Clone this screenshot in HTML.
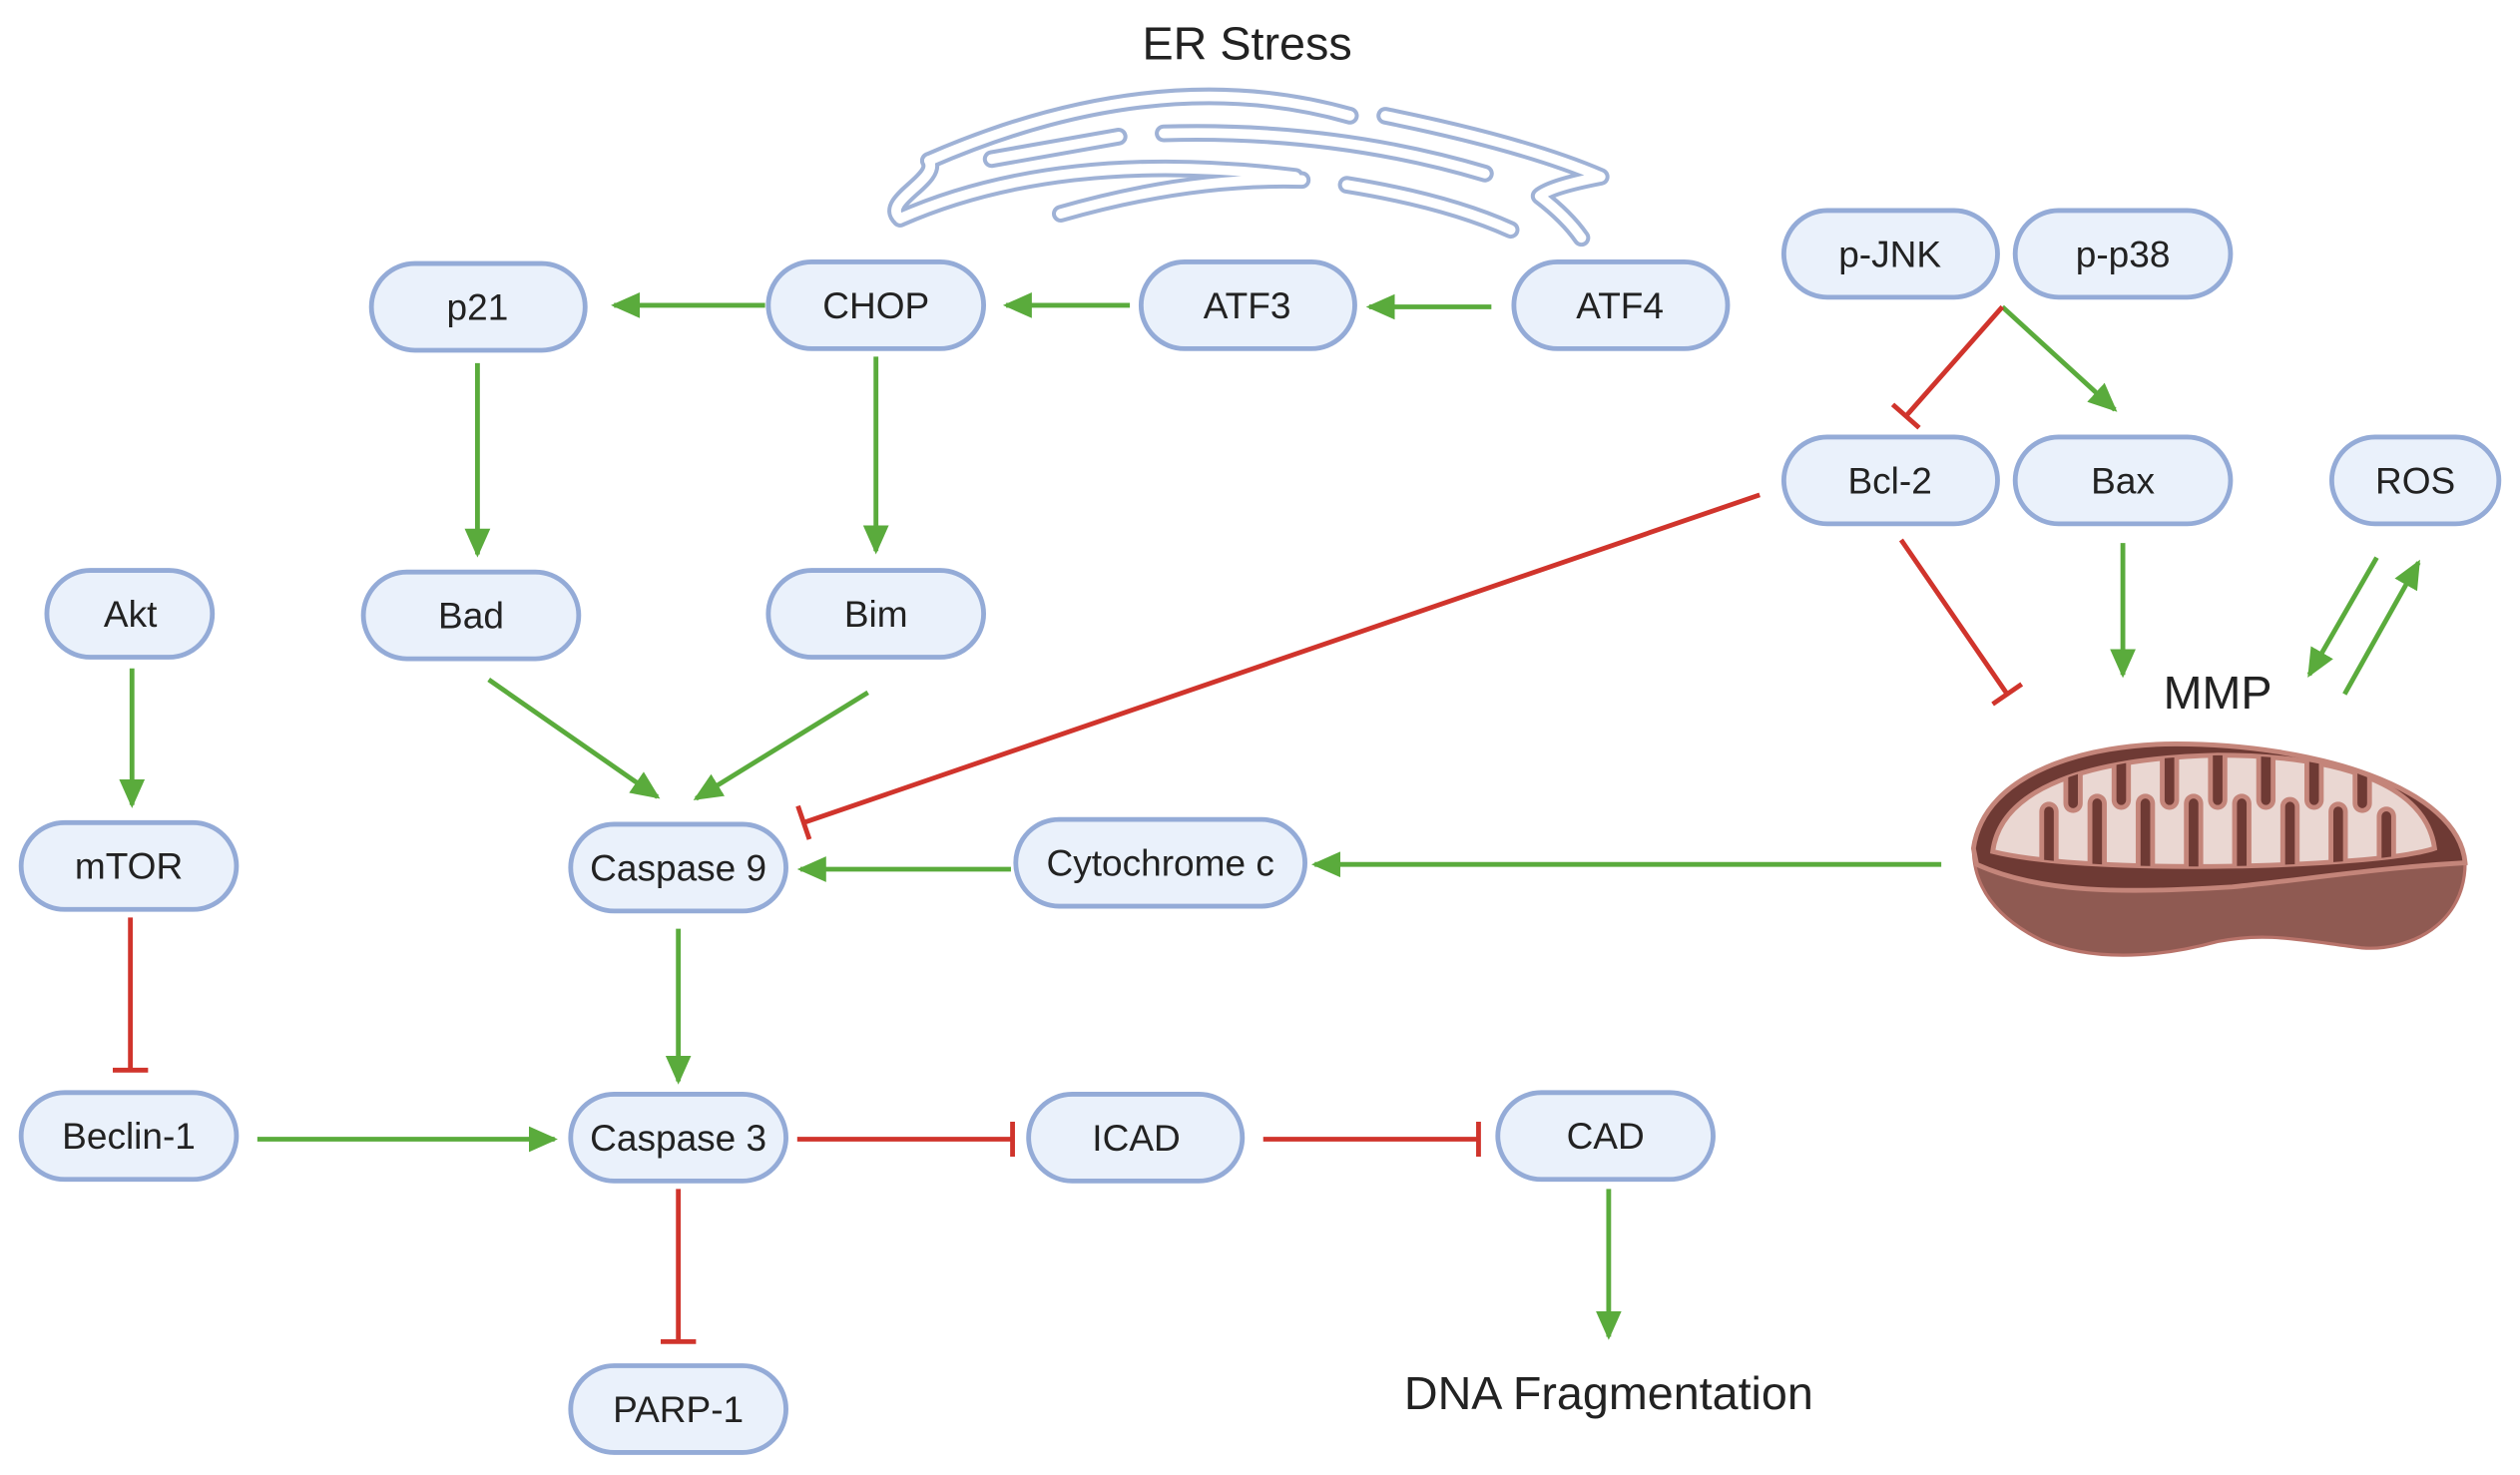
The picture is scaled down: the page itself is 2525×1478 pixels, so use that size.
<!DOCTYPE html>
<html><head><meta charset="utf-8"><style>
html,body{margin:0;padding:0;background:#fff;}
svg{display:block;}
text{font-family:"Liberation Sans",sans-serif;fill:#222;}
</style></head><body>
<svg width="2525" height="1478" viewBox="0 0 1568 918" xmlns="http://www.w3.org/2000/svg">
<defs>
<marker id="g" markerWidth="20" markerHeight="16" refX="16" refY="8" orient="auto" markerUnits="userSpaceOnUse"><path d="M0,0 L18,8 L0,16 Z" fill="#5aab3c"/></marker>
<marker id="r" markerWidth="6" markerHeight="22" refX="3" refY="11" orient="auto" markerUnits="userSpaceOnUse"><rect x="1.5" y="0" width="3" height="22" fill="#d0342c"/></marker>
<clipPath id="blob"><path d="M1240,530 C1245,490 1300,472 1380,470 C1460,470 1510,490 1515,528 C1480,540 1300,545 1240,530 Z"/></clipPath>
</defs>

<!-- ER -->
<text x="776" y="37" font-size="29" text-anchor="middle">ER Stress</text>
<g fill="none" stroke-linecap="round" stroke-linejoin="round">
<g stroke="#9fb2d6" stroke-width="11">
<path d="M578,100 Q720,38 840,72"/>
<path d="M560,136 C548,125 585,112 578,100"/>
<path d="M560,136 Q660,92 806,110"/>
<path d="M617,99 L696,85"/>
<path d="M724,83 Q830,80 924,108"/>
<path d="M660,133 Q740,110 810,112"/>
<path d="M838,115 Q900,125 940,143"/>
<path d="M862,72 Q950,90 996,110 Q965,116 958,122 Q975,135 984,148"/>
</g>
<g stroke="#fff" stroke-width="6">
<path d="M578,100 Q720,38 840,72"/>
<path d="M560,136 C548,125 585,112 578,100"/>
<path d="M560,136 Q660,92 806,110"/>
<path d="M617,99 L696,85"/>
<path d="M724,83 Q830,80 924,108"/>
<path d="M660,133 Q740,110 810,112"/>
<path d="M838,115 Q900,125 940,143"/>
<path d="M862,72 Q950,90 996,110 Q965,116 958,122 Q975,135 984,148"/>
</g>
</g>

<!-- Mitochondria -->
<g>
<path d="M1228,528 C1235,480 1300,463 1354,463 C1440,463 1530,490 1534,537 C1534,575 1500,592 1470,590 C1430,585 1410,580 1380,586 C1340,597 1300,598 1270,585 C1240,570 1228,550 1228,528 Z" fill="#8f5a52" stroke="#b8736a" stroke-width="2"/>
<path d="M1228,528 C1235,480 1300,463 1354,463 C1440,463 1530,490 1534,537 C1480,540 1430,548 1389,552 C1320,556 1270,556 1230,538 Z" fill="#6e3a34" stroke="#c4857a" stroke-width="3"/>
<path d="M1240,530 C1245,490 1300,472 1380,470 C1460,470 1510,490 1515,528 C1480,540 1300,545 1240,530 Z" fill="#ead7d2" stroke="#c4857a" stroke-width="3"/>
<g stroke-linecap="round" fill="none" clip-path="url(#blob)">
<g stroke="#c4857a" stroke-width="12">
<path d="M1275,550 V505 M1305,550 V500 M1335,550 V500 M1365,550 V500 M1395,550 V500 M1425,550 V502 M1455,550 V505 M1485,550 V508"/>
<path d="M1290,460 V500 M1320,460 V498 M1350,460 V498 M1380,460 V498 M1410,460 V498 M1440,460 V498 M1470,460 V500"/>
</g>
<g stroke="#6e3a34" stroke-width="6">
<path d="M1275,550 V505 M1305,550 V500 M1335,550 V500 M1365,550 V500 M1395,550 V500 M1425,550 V502 M1455,550 V505 M1485,550 V508"/>
<path d="M1290,460 V500 M1320,460 V498 M1350,460 V498 M1380,460 V498 M1410,460 V498 M1440,460 V498 M1470,460 V500"/>
</g>
</g>
</g>
<text x="1380" y="441" font-size="29" text-anchor="middle">MMP</text>
<text x="1001" y="877" font-size="29" text-anchor="middle">DNA Fragmentation</text>

<!-- Connectors -->
<g fill="none" stroke-width="3">
<g stroke="#5aab3c" marker-end="url(#g)">
<line x1="476" y1="190" x2="382" y2="190"/>
<line x1="703" y1="190" x2="626" y2="190"/>
<line x1="928" y1="191" x2="852" y2="191"/>
<line x1="297" y1="226" x2="297" y2="345"/>
<line x1="545" y1="222" x2="545" y2="343"/>
<line x1="304" y1="423" x2="409" y2="496"/>
<line x1="540" y1="431" x2="433" y2="497"/>
<line x1="82" y1="416" x2="82" y2="501"/>
<line x1="160" y1="709" x2="345" y2="709"/>
<line x1="422" y1="578" x2="422" y2="673"/>
<line x1="1001" y1="740" x2="1001" y2="832"/>
<line x1="629" y1="541" x2="498" y2="541"/>
<line x1="1208" y1="538" x2="818" y2="538"/>
<line x1="1246" y1="191" x2="1316" y2="255"/>
<line x1="1321" y1="338" x2="1321" y2="420"/>
<line x1="1479" y1="347" x2="1437" y2="420"/>
<line x1="1459" y1="432" x2="1505" y2="350"/>
</g>
<g stroke="#d0342c" marker-end="url(#r)">
<line x1="81" y1="571" x2="81" y2="666"/>
<line x1="496" y1="709" x2="630" y2="709"/>
<line x1="786" y1="709" x2="920" y2="709"/>
<line x1="422" y1="740" x2="422" y2="835"/>
<line x1="1095" y1="308" x2="500" y2="512"/>
<line x1="1246" y1="191" x2="1186" y2="259"/>
<line x1="1183" y1="336" x2="1249" y2="432"/>
</g>
</g>

<!-- Nodes -->
<g fill="#eaf1fb" stroke="#94abd7" stroke-width="3">
<rect x="231" y="164" width="133" height="54" rx="27"/>
<rect x="478" y="163" width="134" height="54" rx="27"/>
<rect x="710" y="163" width="133" height="54" rx="27"/>
<rect x="942" y="163" width="133" height="54" rx="27"/>
<rect x="1110" y="131" width="133" height="54" rx="27"/>
<rect x="1254" y="131" width="134" height="54" rx="27"/>
<rect x="1110" y="272" width="133" height="54" rx="27"/>
<rect x="1254" y="272" width="134" height="54" rx="27"/>
<rect x="1451" y="272" width="104" height="54" rx="27"/>
<rect x="29" y="355" width="103" height="54" rx="27"/>
<rect x="226" y="356" width="134" height="54" rx="27"/>
<rect x="478" y="355" width="134" height="54" rx="27"/>
<rect x="13" y="512" width="134" height="54" rx="27"/>
<rect x="355" y="513" width="134" height="54" rx="27"/>
<rect x="632" y="510" width="180" height="54" rx="27"/>
<rect x="13" y="680" width="134" height="54" rx="27"/>
<rect x="355" y="681" width="134" height="54" rx="27"/>
<rect x="640" y="681" width="133" height="54" rx="27"/>
<rect x="932" y="680" width="134" height="54" rx="27"/>
<rect x="355" y="850" width="134" height="54" rx="27"/>
</g>
<g font-size="23" text-anchor="middle">
<text x="297" y="199">p21</text>
<text x="545" y="198">CHOP</text>
<text x="776" y="198">ATF3</text>
<text x="1008" y="198">ATF4</text>
<text x="1176" y="166">p-JNK</text>
<text x="1321" y="166">p-p38</text>
<text x="1176" y="307">Bcl-2</text>
<text x="1321" y="307">Bax</text>
<text x="1503" y="307">ROS</text>
<text x="81" y="390">Akt</text>
<text x="293" y="391">Bad</text>
<text x="545" y="390">Bim</text>
<text x="80" y="547">mTOR</text>
<text x="422" y="548">Caspase 9</text>
<text x="722" y="545">Cytochrome c</text>
<text x="80" y="715">Beclin-1</text>
<text x="422" y="716">Caspase 3</text>
<text x="707" y="716">ICAD</text>
<text x="999" y="715">CAD</text>
<text x="422" y="885">PARP-1</text>
</g>
</svg>
</body></html>
